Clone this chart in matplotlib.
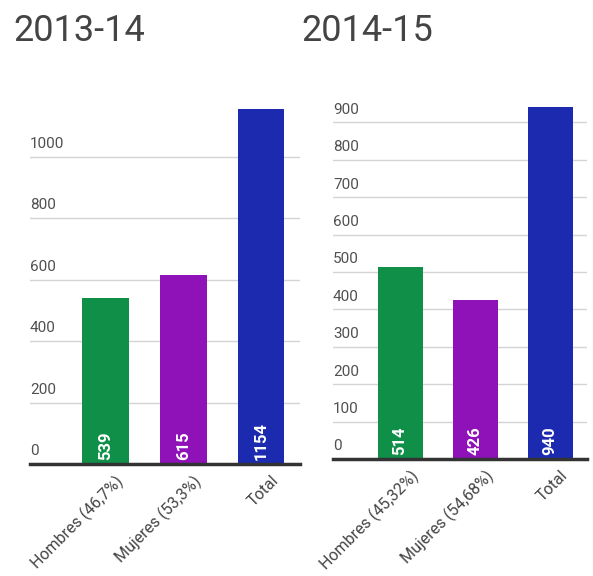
import matplotlib.pyplot as plt

plt.rcParams['font.family'] = ['Roboto', 'DejaVu Sans']

COLORS = ['#0f8f48', '#8e12b8', '#1b2aae']

labels_1314 = ['Hombres (46,7%)', 'Mujeres (53,3%)', 'Total']
values_1314 = [539, 615, 1154]
ticks_1314 = [0, 200, 400, 600, 800, 1000]

labels_1415 = ['Hombres (45,32%)', 'Mujeres (54,68%)', 'Total']
values_1415 = [514, 426, 940]
ticks_1415 = [0, 100, 200, 300, 400, 500, 600, 700, 800, 900]

W, H = 593, 576


def draw_panel(ax, labels, values, ticks, ymax, xlim):
    x = range(len(values))
    ax.bar(x, values, width=0.6, color=COLORS, zorder=2)
    ax.set_xlim(*xlim)
    ax.set_ylim(0, ymax)
    ax.axis('off')

    # gridlines with labels sitting just above them
    for t in ticks:
        if t > 0:
            ax.axhline(t, color='#d4d4d4', lw=1, zorder=1)
        ax.annotate(str(t), xy=(0, t), xycoords=('axes fraction', 'data'),
                    xytext=(0, 4), textcoords='offset points',
                    ha='left', va='bottom', fontsize=11, color='#505050')
    ax.axhline(0, color='#333333', lw=2.5, zorder=3, clip_on=False)

    for i, (lab, v) in enumerate(zip(labels, values)):
        ax.annotate(str(v), xy=(i, 0), xytext=(0, 3),
                    textcoords='offset points', rotation=90,
                    ha='center', va='bottom', fontsize=12,
                    fontweight='bold', color='white', zorder=4)
        ax.annotate(lab, xy=(i, 0), xytext=(7, -6),
                    textcoords='offset points', rotation=45,
                    rotation_mode='anchor', ha='right', va='top',
                    fontsize=11.5, color='#444444', annotation_clip=False)


fig = plt.figure(figsize=(W / 100, H / 100), dpi=100)

ax1 = fig.add_axes([30 / W, 1 - 464 / H, 270 / W, (464 - 95) / H])
draw_panel(ax1, labels_1314, values_1314, ticks_1314, 1200, (-0.97, 2.5))

ax2 = fig.add_axes([333 / W, 1 - 459 / H, 254 / W, (459 - 85) / H])
draw_panel(ax2, labels_1415, values_1415, ticks_1415, 1000, (-0.893, 2.49))

fig.text(13 / W, 1 - 41 / H, '2013-14', fontsize=26, color='#444444',
         va='baseline', ha='left')
fig.text(301 / W, 1 - 41 / H, '2014-15', fontsize=26, color='#444444',
         va='baseline', ha='left')

fig.savefig('out.png', dpi=100, facecolor='white')
